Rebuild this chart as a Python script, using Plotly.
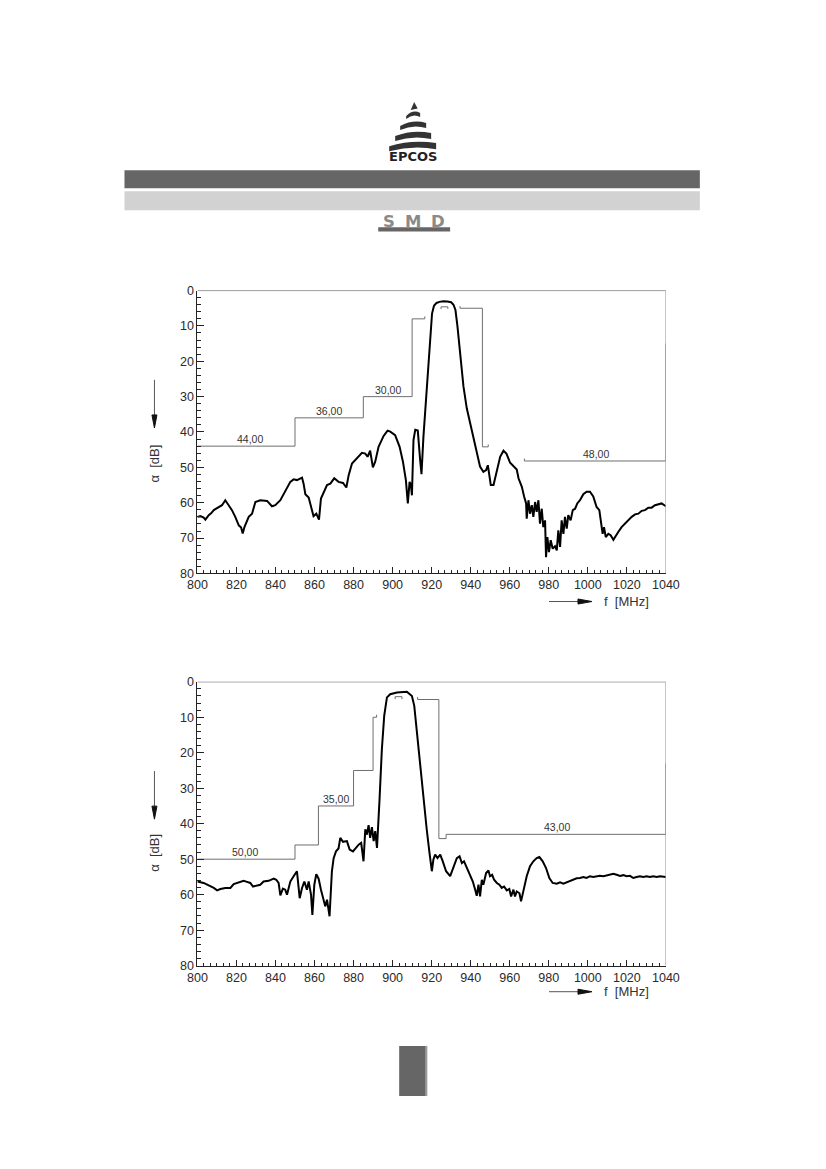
import plotly.graph_objects as go

# page size in px
W, H = 826, 1169
# the captured page comes out slightly shrunk and shifted; these undo that
OX, SX = 9.4, 0.972
OY, SY = 8.3, 0.985


def px(x):
    return ((x - OX) / SX) / W


def py(y):
    return 1 - ((y - OY) / SY) / H


# ---- chart 1 : measured attenuation ----
f1 = [800.0, 801.5, 803.2, 804.1, 805.8, 807.0, 808.4, 810.9, 812.6, 814.3,
      816.0, 817.7, 819.4, 821.2, 822.4, 823.2, 824.1, 826.3, 828.0, 829.7,
      832.2, 835.7, 838.2, 839.9, 842.5, 845.0, 847.6, 849.3, 851.0, 853.6,
      854.4, 855.3, 857.0, 858.7, 859.5, 860.9, 862.3, 863.3, 864.7, 866.4,
      868.1, 870.1, 872.3, 874.6, 876.3, 877.5, 879.2, 881.7, 884.3, 886.0,
      887.2, 888.5, 889.9, 891.1, 892.8, 895.4, 897.4, 898.8, 901.3, 903.6,
      905.3, 906.8, 907.8, 908.7, 909.4, 909.9, 910.7, 911.6, 912.9, 914.1,
      914.8, 915.8, 917.0, 918.2, 919.2, 920.2, 921.2, 922.5, 924.0, 926.0,
      928.0, 930.0, 931.2, 932.2, 933.2, 934.6, 936.3, 938.0, 939.7, 941.8,
      943.5, 944.8, 946.5, 947.9, 948.8, 949.4, 950.3, 951.7, 953.4, 955.1,
      956.8, 958.3, 960.2, 961.9, 963.6, 964.5, 966.2, 967.4, 968.4, 968.7,
      969.6, 970.4, 971.3, 972.1, 973.0, 973.8, 974.7, 975.5, 976.4, 977.2,
      978.1, 978.6, 979.3, 980.1, 981.0, 982.0, 983.2, 984.1, 984.9, 985.8,
      986.6, 987.5, 988.3, 989.2, 990.0, 991.2, 992.3, 993.5, 994.6, 996.0,
      997.7, 999.4, 1001.1, 1002.8, 1004.5, 1005.9, 1006.8, 1007.6, 1008.3, 1009.2,
      1010.5, 1011.7, 1013.1, 1014.4, 1015.6, 1017.3, 1019.0, 1020.7, 1022.5, 1024.2,
      1025.9, 1027.6, 1029.3, 1031.0, 1032.7, 1034.4, 1036.1, 1037.8, 1040.0]
a1 = [64.0, 63.8, 64.2, 64.8, 63.5, 63.0, 62.1, 61.2, 60.7, 59.3,
      60.7, 62.1, 64.0, 66.4, 67.0, 68.7, 66.9, 64.0, 63.1, 59.8,
      59.3, 59.5, 61.0, 60.7, 59.3, 56.9, 54.1, 53.4, 53.6, 52.9,
      54.6, 57.6, 58.5, 62.1, 63.8, 63.1, 64.8, 58.8, 57.2, 55.0,
      54.6, 53.1, 54.1, 54.4, 55.7, 52.2, 48.9, 47.5, 45.9, 46.1,
      47.0, 45.3, 50.0, 48.4, 44.2, 41.1, 39.6, 39.9, 40.9, 44.2,
      48.4, 53.6, 60.2, 54.1, 55.0, 57.9, 42.3, 39.4, 39.6, 47.9,
      51.9, 41.3, 31.0, 20.5, 12.0, 6.5, 4.3, 3.5, 3.2, 3.0,
      3.1, 3.3, 4.0, 5.5, 10.0, 18.6, 27.1, 33.3, 37.5, 42.3,
      47.0, 49.8, 51.3, 50.8, 49.4, 51.3, 55.0, 55.0, 50.8, 47.0,
      45.3, 46.1, 48.7, 49.8, 50.6, 53.1, 55.5, 58.3, 60.2, 64.5,
      59.3, 63.1, 60.7, 64.0, 59.8, 62.6, 59.3, 65.9, 61.7, 66.9,
      65.0, 75.4, 69.7, 74.0, 70.6, 73.0, 72.3, 73.5, 67.8, 72.5,
      65.0, 68.8, 64.0, 67.3, 63.5, 65.0, 62.1, 61.7, 60.2, 59.3,
      57.6, 56.9, 56.9, 58.2, 61.2, 62.1, 65.0, 68.8, 66.9, 69.7,
      68.8, 69.2, 70.5, 69.2, 68.3, 66.9, 65.9, 64.8, 64.0, 63.3,
      63.1, 62.3, 62.1, 61.4, 61.4, 60.7, 60.4, 60.2, 61.0]

# ---- chart 2 : measured attenuation ----
f2 = [800.0, 801.5, 803.2, 805.8, 808.4, 810.1, 811.8, 814.3, 816.9, 818.6,
      820.3, 822.0, 823.7, 825.4, 827.1, 828.5, 830.5, 832.2, 833.9, 836.5,
      839.1, 840.4, 841.6, 842.5, 843.8, 845.0, 845.9, 847.6, 849.3, 851.0,
      852.4, 853.6, 854.8, 856.1, 857.0, 858.2, 858.9, 859.9, 860.9, 862.1,
      863.3, 864.3, 865.5, 866.4, 867.2, 867.7, 868.9, 869.8, 871.0, 872.3,
      873.2, 874.6, 876.6, 878.0, 879.7, 880.9, 882.6, 883.9, 885.1, 886.0,
      886.8, 887.7, 888.5, 889.4, 890.3, 891.1, 892.0, 893.3, 894.5, 895.7,
      897.1, 898.8, 902.2, 907.3, 909.9, 911.1, 912.4, 914.1, 915.8, 917.5,
      918.9, 920.1, 920.9, 921.8, 923.0, 924.4, 925.7, 927.4, 929.5, 931.2,
      932.9, 934.3, 935.5, 936.6, 938.0, 939.7, 941.1, 942.3, 943.1, 944.0,
      944.8, 945.7, 946.5, 947.9, 949.1, 949.9, 951.0, 952.0, 953.4, 954.7,
      955.9, 957.1, 958.5, 959.8, 960.7, 961.9, 962.7, 963.6, 965.0, 965.8,
      966.7, 967.5, 968.7, 970.4, 972.1, 973.8, 975.2, 976.9, 978.6, 980.3,
      982.0, 984.1, 985.8, 987.5, 989.2, 990.9, 992.6, 994.3, 996.0, 997.7,
      999.4, 1001.1, 1002.8, 1004.5, 1006.2, 1008.0, 1009.7, 1011.4, 1013.1, 1014.8,
      1016.5, 1018.2, 1019.9, 1021.6, 1023.3, 1025.0, 1026.7, 1028.4, 1030.1, 1031.8,
      1033.5, 1035.3, 1037.0, 1040.0]
a2 = [56.3, 56.4, 56.7, 57.4, 58.1, 58.8, 58.4, 58.1, 58.1, 57.0,
      56.7, 56.3, 56.1, 56.4, 56.7, 57.7, 57.4, 57.2, 56.3, 56.1,
      55.5, 55.8, 56.7, 60.2, 58.3, 58.6, 60.0, 56.3, 54.8, 53.4,
      61.0, 58.1, 56.3, 58.6, 56.3, 60.0, 65.7, 57.2, 54.2, 55.5,
      58.6, 61.0, 63.3, 61.4, 63.8, 66.1, 53.4, 49.7, 47.8, 47.0,
      44.0, 45.1, 44.9, 47.3, 47.8, 47.0, 45.9, 45.4, 50.6, 41.6,
      43.1, 40.4, 44.0, 41.0, 44.9, 42.1, 46.8, 33.2, 19.0, 9.6,
      4.4, 3.5, 3.0, 2.8, 4.0, 6.8, 14.3, 23.8, 33.2, 41.7,
      48.2, 53.4, 50.1, 48.7, 49.7, 48.7, 50.6, 53.4, 54.8, 52.0,
      49.7, 49.2, 51.1, 50.6, 52.5, 54.4, 56.3, 58.6, 60.3, 57.2,
      60.5, 55.8, 57.2, 53.9, 53.2, 54.8, 54.4, 55.8, 56.7, 57.2,
      58.1, 57.7, 58.8, 58.4, 60.5, 58.6, 60.5, 59.1, 59.6, 61.9,
      59.6, 58.1, 54.8, 52.0, 50.6, 49.7, 49.4, 50.6, 52.5, 55.3,
      56.7, 56.9, 56.5, 56.9, 56.5, 56.3, 55.8, 55.4, 55.3, 55.0,
      55.3, 54.8, 55.0, 54.8, 54.7, 54.8, 54.5, 54.4, 54.1, 54.4,
      54.7, 54.5, 54.8, 54.7, 55.3, 55.0, 54.8, 55.0, 54.8, 55.0,
      54.8, 55.0, 54.8, 55.0]

# ---- tolerance masks (MHz, dB) ----
mask1 = [
    ([800, 850, 850, 885, 885, 910, 910, 916.5, 916.5],
     [44, 44, 36, 36, 30, 30, 8, 8, 7.3]),
    ([924.8, 924.8, 928.3, 928.3], [5.2, 4.6, 4.6, 5.2]),
    ([934.5, 934.5, 946, 946, 949, 949], [4.4, 5.0, 5.0, 44.2, 44.2, 43.5]),
    ([967.5, 967.5, 1040, 1040], [47.5, 48.2, 48.2, 15]),
]
mask2 = [
    ([800, 850, 850, 862, 862, 880, 880, 890, 890, 891.8, 891.8],
     [50, 50, 46, 46, 35, 35, 25, 25, 10, 10, 9.3]),
    ([901.3, 901.3, 904.8, 904.8], [4.9, 4.2, 4.2, 4.9]),
    ([912.8, 912.8, 923.7, 923.7, 927.4, 927.4, 1040, 1040],
     [4.3, 5.0, 5.0, 44.2, 44.2, 43.0, 43.0, 23]),
]
labels1 = [("44,00", 827, 44), ("36,00", 867.5, 36), ("30,00", 897.5, 30), ("48,00", 1004, 48.2)]
labels2 = [("50,00", 824.6, 50), ("35,00", 871, 35), ("43,00", 984, 43)]

x_ticks = list(range(800, 1041, 20))
y_ticks = list(range(0, 81, 10))

fig = go.Figure()

for xa, ya, f, a, masks in [("x", "y", f1, a1, mask1), ("x2", "y2", f2, a2, mask2)]:
    for mx, my in masks:
        fig.add_trace(go.Scatter(x=mx, y=my, mode="lines", xaxis=xa, yaxis=ya,
                                 line=dict(color="#6e6e6e", width=1), hoverinfo="skip"))
    fig.add_trace(go.Scatter(x=f, y=a, mode="lines", xaxis=xa, yaxis=ya,
                             line=dict(color="black", width=2)))

tickfont = dict(family="Liberation Sans", size=12.5, color="#2a2a2a")
xcommon = dict(range=[800, 1040], tickmode="array", tickvals=x_ticks, ticks="inside",
               ticklen=6, tickcolor="#222", showline=True, linecolor="#222", linewidth=1,
               showgrid=False, zeroline=False, tickfont=tickfont,
               minor=dict(tick0=800, dtick=10 / 3, ticks="inside", ticklen=3,
                          tickcolor="#222", showgrid=False))
ycommon = dict(range=[80, 0], tickmode="array", tickvals=y_ticks, ticks="inside",
               ticklen=7, tickcolor="#222", showline=True, linecolor="#222", linewidth=1,
               showgrid=False, zeroline=False, tickfont=tickfont,
               minor=dict(tick0=0, dtick=2, ticks="inside", ticklen=4,
                          tickcolor="#222", showgrid=False))

fig.update_layout(
    width=W, height=H, margin=dict(l=0, r=0, t=0, b=0),
    paper_bgcolor="white", plot_bgcolor="white", showlegend=False,
    xaxis=dict(domain=[px(197), px(666)], anchor="y", **xcommon),
    yaxis=dict(domain=[py(573), py(291)], anchor="x", **ycommon),
    xaxis2=dict(domain=[px(197), px(666)], anchor="y2", **xcommon),
    yaxis2=dict(domain=[py(964), py(681)], anchor="x2", **ycommon),
)

shapes = []
annotations = []


def path(points):
    s = "M " + " L ".join(f"{px(x):.5f},{py(y):.5f}" for x, y in points) + " Z"
    return s


def note(text, x, y, size, color="#333", **kw):
    annotations.append(dict(text=text, x=px(x), y=py(y), xref="paper", yref="paper",
                            showarrow=False, xanchor=kw.pop("xanchor", "center"),
                            yanchor="middle", font=dict(family=kw.pop("family", "Liberation Sans"),
                                                        size=size, color=color), **kw))


# frame top and right
for xa, ya in [("x", "y"), ("x2", "y2")]:
    shapes.append(dict(type="line", xref=xa, yref=ya, x0=800, x1=1040, y0=0, y1=0,
                       line=dict(color="#444", width=1)))
    shapes.append(dict(type="line", xref=xa, yref=ya, x0=1040, x1=1040, y0=0, y1=80,
                       line=dict(color="#999", width=1)))

# mask labels
for xa, ya, labels in [("x", "y", labels1), ("x2", "y2", labels2)]:
    for txt, lx, ly in labels:
        annotations.append(dict(text=txt, x=lx, y=ly, xref=xa, yref=ya, xanchor="center",
                                yanchor="bottom", showarrow=False, yshift=-1,
                                font=dict(family="Liberation Sans", size=10.5, color="#333")))

# axis titles with arrows
for y_arrow, y_lab, y_f in [(380, 463, 601), (770, 851, 990)]:
    shapes.append(dict(type="line", xref="paper", yref="paper", x0=px(154), x1=px(154),
                       y0=py(y_arrow), y1=py(y_arrow + 36), line=dict(color="#555", width=1)))
    shapes.append(dict(type="path", xref="paper", yref="paper",
                       path=path([(151.5, y_arrow + 35), (156.5, y_arrow + 35), (154, y_arrow + 48)]),
                       fillcolor="#111", line=dict(color="#111", width=1)))
    note("α  [dB]", 154, y_lab, 13, textangle=-90)
    shapes.append(dict(type="line", xref="paper", yref="paper", x0=px(549), x1=px(580),
                       y0=py(y_f), y1=py(y_f), line=dict(color="#555", width=1)))
    shapes.append(dict(type="path", xref="paper", yref="paper",
                       path=path([(578, y_f - 2.5), (578, y_f + 2.5), (592, y_f)]),
                       fillcolor="#111", line=dict(color="#111", width=1)))
    note("f  [MHz]", 602, y_f, 13, xanchor="left")

# header: logo, bars, SMD badge
shapes.append(dict(type="path", xref="paper", yref="paper",
                   path=path([(414, 103), (410.5, 111), (417.5, 109.5)]),
                   fillcolor="#333", line=dict(width=0)))
for yt, yb, L, R in [(113, 119, 406, 420), (123, 130, 400, 426), (133, 141, 395, 431), (143, 151, 389, 436)]:
    mid = (L + R) / 2
    p = (f"M {px(L):.5f},{py(yt + 4):.5f} Q {px(mid):.5f},{py(yt - 3):.5f} {px(R):.5f},{py(yt + 1):.5f} "
         f"L {px(R):.5f},{py(yb - 1):.5f} Q {px(mid):.5f},{py(yb - 5):.5f} {px(L):.5f},{py(yb + 1):.5f} Z")
    shapes.append(dict(type="path", xref="paper", yref="paper", path=p,
                       fillcolor="#333", line=dict(width=0)))
note("<b>EPCOS</b>", 413, 157, 13, color="#222", family="DejaVu Sans")

shapes.append(dict(type="rect", xref="paper", yref="paper", x0=px(124), x1=px(700),
                   y0=py(189), y1=py(171), fillcolor="#666", line=dict(width=0)))
shapes.append(dict(type="rect", xref="paper", yref="paper", x0=px(124), x1=px(700),
                   y0=py(211), y1=py(192), fillcolor="#d2d2d2", line=dict(width=0)))
shapes.append(dict(type="rect", xref="paper", yref="paper", x0=px(378), x1=px(450),
                   y0=py(232), y1=py(228), fillcolor="#666", line=dict(width=0)))
for ch, cx in [("S", 389), ("M", 413), ("D", 438)]:
    note(f"<b>{ch}</b>", cx, 222, 16.5, color="#8a8a8a", family="DejaVu Sans")

# page marker at the bottom
shapes.append(dict(type="rect", xref="paper", yref="paper", x0=px(399), x1=px(427),
                   y0=py(1094), y1=py(1044), fillcolor="#666", line=dict(width=0)))
shapes.append(dict(type="rect", xref="paper", yref="paper", x0=px(425), x1=px(427),
                   y0=py(1094), y1=py(1044), fillcolor="#9a9a9a", line=dict(width=0)))

fig.update_layout(shapes=shapes, annotations=annotations)
# drop the default page margin so the figure fills the window exactly
fig.write_html("out.html", config={"displayModeBar": False},
               post_script="document.body.style.margin='0';")
